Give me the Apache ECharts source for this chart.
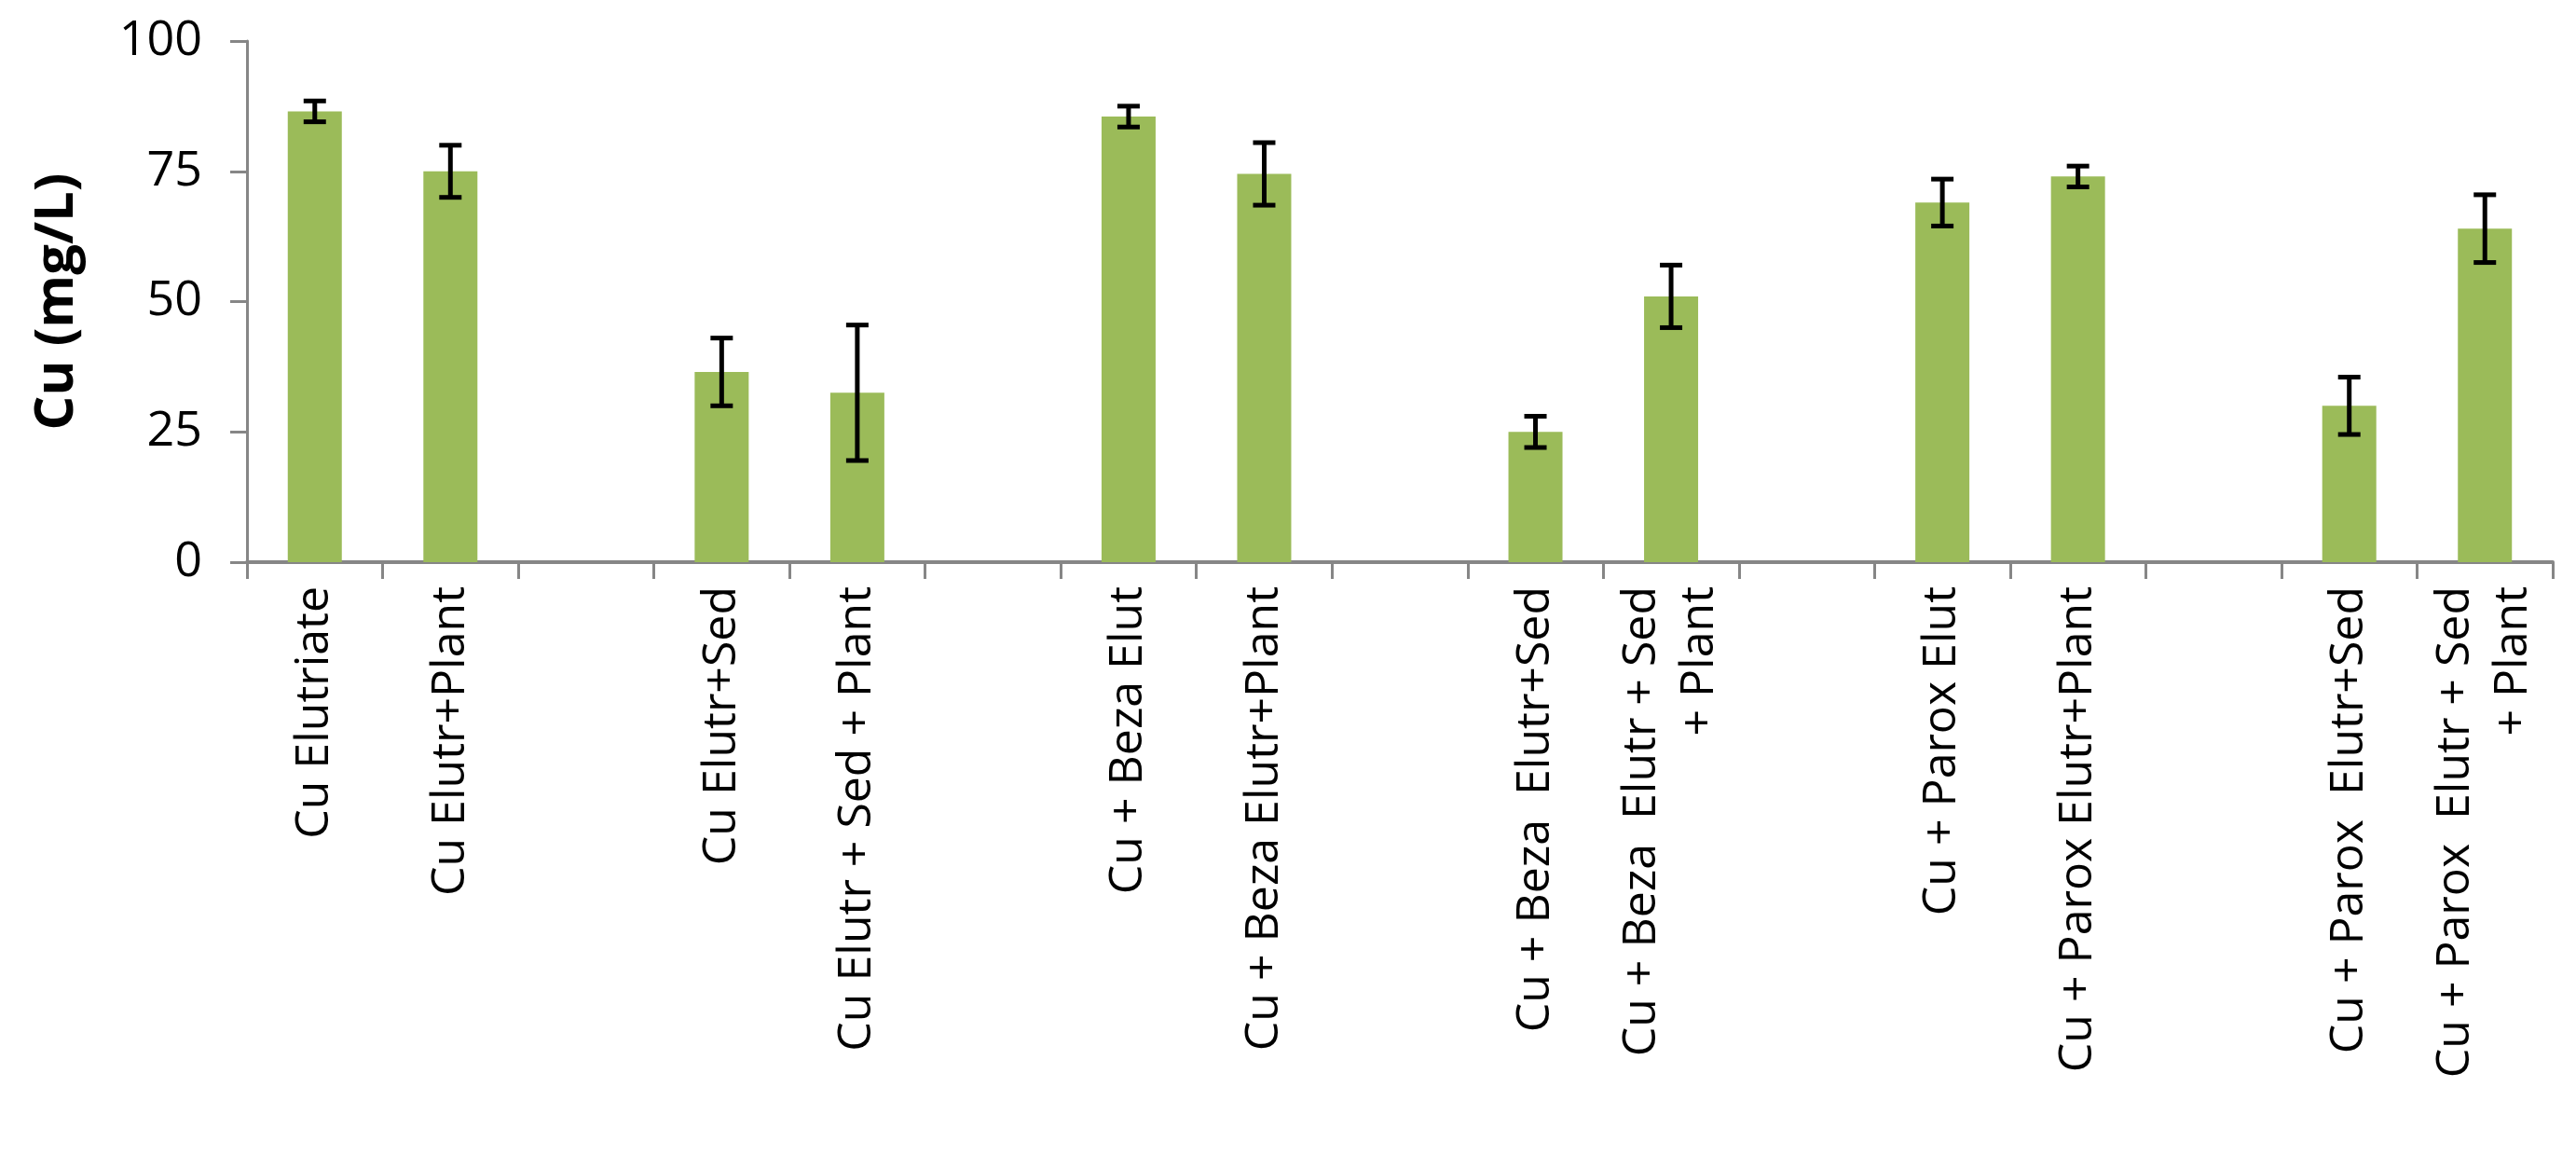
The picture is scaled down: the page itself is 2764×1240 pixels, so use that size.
<!DOCTYPE html>
<html>
<head>
<meta charset="utf-8">
<script src="https://cdn.jsdelivr.net/npm/echarts@6/dist/echarts.min.js"></script>
<style>html,body{margin:0;padding:0;background:#fff}#chart{width:2764px;height:1240px}</style>
</head>
<body>
<div id="chart"></div>
<script>
// '' entries are the empty gaps between groups
const categories = [
    "Cu Elutriate", "Cu Elutr+Plant", "",
    "Cu Elutr+Sed", "Cu Elutr + Sed + Plant", "",
    "Cu + Beza Elut", "Cu + Beza Elutr+Plant", "",
    "Cu + Beza  Elutr+Sed", "Cu + Beza  Elutr + Sed\n+ Plant", "",
    "Cu + Parox Elut", "Cu + Parox Elutr+Plant", "",
    "Cu + Parox  Elutr+Sed", "Cu + Parox  Elutr + Sed\n+ Plant"
];
const means = [86.5, 75, null, 36.5, 32.5, null, 85.5, 74.5, null, 25, 51, null, 69, 74, null, 30, 64];
const errors = [2, 5, null, 6.5, 13, null, 2, 6, null, 3, 6, null, 4.5, 2, null, 5.5, 6.5];
const yTicks = [0, 25, 50, 75, 100];

const errData = means
    .map((m, i) => (m === null ? null : [i, m - errors[i], m + errors[i]]))
    .filter((d) => d !== null);

const chart = echarts.init(document.getElementById("chart"));
chart.setOption({
    animation: false,
    grid: { left: 265, right: 25, top: 44, bottom: 637 },
    xAxis: {
        type: "category",
        data: categories,
        boundaryGap: true,
        axisLine: { lineStyle: { color: "#868686", width: 4 } },
        axisTick: { show: true, interval: 0, length: 18, lineStyle: { color: "#868686", width: 3 } },
        axisLabel: {
            interval: 0,
            rotate: 90,
            margin: 26,
            fontFamily: "Open Sans",
            fontSize: 50,
            color: "#000",
            lineHeight: 62
        }
    },
    yAxis: {
        type: "value",
        min: yTicks[0],
        max: yTicks[yTicks.length - 1],
        interval: 25,
        name: "Cu (mg/L)",
        nameLocation: "middle",
        nameGap: 175,
        nameTextStyle: { fontFamily: "Open Sans", fontWeight: "bold", fontSize: 58, color: "#000" },
        splitLine: { show: false },
        axisLine: { show: true, lineStyle: { color: "#868686", width: 3 } },
        axisTick: { show: true, length: 18, lineStyle: { color: "#868686", width: 3 } },
        axisLabel: { fontFamily: "Open Sans", fontSize: 52, color: "#000", margin: 48 }
    },
    series: [
        {
            type: "bar",
            data: means,
            barWidth: 58,
            itemStyle: { color: "#9BBB59" }
        },
        {
            type: "custom",
            data: errData,
            z: 10,
            renderItem: function (params, api) {
                const x = api.value(0);
                const lo = api.coord([x, api.value(1)]);
                const hi = api.coord([x, api.value(2)]);
                const w = 12;
                const style = { stroke: "#000", lineWidth: 5 };
                return {
                    type: "group",
                    children: [
                        { type: "line", shape: { x1: lo[0], y1: lo[1], x2: hi[0], y2: hi[1] }, style: style },
                        { type: "line", shape: { x1: lo[0] - w, y1: lo[1], x2: lo[0] + w, y2: lo[1] }, style: style },
                        { type: "line", shape: { x1: hi[0] - w, y1: hi[1], x2: hi[0] + w, y2: hi[1] }, style: style }
                    ]
                };
            }
        }
    ]
});
</script>
</body>
</html>
